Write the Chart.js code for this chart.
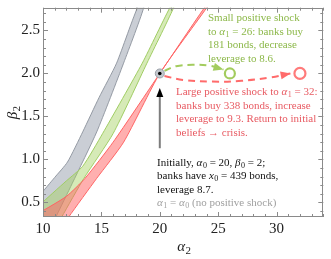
<!DOCTYPE html>
<html><head><meta charset="utf-8">
<script src="https://cdn.jsdelivr.net/npm/chart.js@4.4.1/dist/chart.umd.min.js"></script>
<style>html,body{margin:0;padding:0;background:#fff}canvas{display:block}</style>
</head><body>
<canvas id="c" width="331" height="259"></canvas>
<script>
// ---- axes ----
const xRange = [10, 34];
const yRange = [0.33, 2.765];
const xTicks = [10, 15, 20, 25, 30];
const yTicks = [0.5, 1.0, 1.5, 2.0, 2.5];

// ---- bands: [alpha2, beta2] boundary points ----
const grayUpper  = [[9.7,0.58],[11.0,0.79],[12.1,0.97],[13.4,1.32],[14.8,1.72],[16.3,2.12],[18.2,2.80]];
const grayLower  = [[9.9,0.0],[11.1,0.33],[12.5,0.72],[14.6,1.32],[16.9,2.12],[18.7,2.80]];
const greenUpper = [[9.7,0.47],[12.0,0.75],[13.4,0.92],[15.1,1.30],[18.5,2.12],[21.0,2.80]];
const greenLower = [[10.2,0.0],[11.6,0.33],[13.5,0.78],[16.0,1.30],[18.9,2.12],[21.3,2.80]];
const redUpper   = [[9.7,0.38],[12.0,0.57],[13.6,0.78],[16.0,1.20],[20.0,2.00],[24.0,2.80]];
const redLower   = [[10.6,0.0],[12.2,0.33],[14.6,0.78],[16.9,1.20],[20.0,2.00],[24.2,2.80]];

// ---- shock paths ----
const initialPoint = [20, 2];
const smallShock = [26, 2];
const largeShock = [32, 2];
const smallPath = [[20.4,2.03],[21.4,2.085],[22.8,2.10],[24.3,2.09],[25.45,2.045]];
const largePath = [[20.4,1.97],[22.0,1.925],[24.5,1.905],[27.0,1.915],[29.5,1.955],[31.2,2.0]];
const initArrow = [[20,1.13],[20,1.83]];

const greenText = ["Small positive shock","to {α}[1] = 26: banks buy","181 bonds, decrease","leverage to 8.6."];
const redText = ["Large positive shock to {α}[1] = 32:","banks buy 338 bonds, increase","leverage to 9.3. Return to initial","beliefs → crisis."];
const blackText = ["Initially, {α}[0] = 20, {β}[0] = 2;","banks have {x}[0] = 439 bonds,","leverage 8.7."];
const grayText = ["{α}[1] = {α}[0] (no positive shock)"];

const FONT = "'Liberation Serif','Times New Roman',serif";
const pts = a => a.map(p => ({x:p[0], y:p[1]}));
const poly = (u, l) => pts(u.concat(l.slice().reverse()));

function band(u, l, fill, stroke, order){
  return {data: poly(u,l), showLine:true, fill:'shape', backgroundColor:fill, borderColor:stroke,
    borderWidth:1, pointRadius:0, tension:0.2, order};
}

function drawRich(ctx, str, x, y, size, color){
  const re = /\{([^}]*)\}|\[([^\]]*)\]|([^{\[]+)/g;
  let m, cx = x;
  ctx.fillStyle = color; ctx.textBaseline = 'alphabetic'; ctx.textAlign = 'left';
  while ((m = re.exec(str))){
    if (m[1] !== undefined){ ctx.font = `italic ${size}px ${FONT}`; ctx.fillText(m[1], cx, y); cx += ctx.measureText(m[1]).width; }
    else if (m[2] !== undefined){ const s = Math.round(size*0.7); ctx.font = `${s}px ${FONT}`; ctx.fillText(m[2], cx+0.5, y+size*0.22); cx += ctx.measureText(m[2]).width+0.5; }
    else { ctx.font = `${size}px ${FONT}`; ctx.fillText(m[3], cx, y); cx += ctx.measureText(m[3]).width; }
  }
  return cx;
}
function richWidth(ctx, str, size){
  ctx.save(); const w = drawRich({fillText(){}, measureText:t=>{ctx.font=this_font;return ctx.measureText(t);}}, str, 0,0,size,'#000'); ctx.restore(); return w;
}

function arrowHead(ctx, x0, y0, x1, y1, len, half, color){
  const a = Math.atan2(y1-y0, x1-x0);
  ctx.save(); ctx.fillStyle = color; ctx.beginPath();
  ctx.moveTo(x1, y1);
  ctx.lineTo(x1 - len*Math.cos(a) + half*Math.sin(a), y1 - len*Math.sin(a) - half*Math.cos(a));
  ctx.lineTo(x1 - len*Math.cos(a) - half*Math.sin(a), y1 - len*Math.sin(a) + half*Math.cos(a));
  ctx.closePath(); ctx.fill(); ctx.restore();
}

const deco = {
  id:'deco',
  afterDraw(chart){
    const {ctx, chartArea:a, scales:{x, y}} = chart;
    ctx.save();
    // frame
    ctx.strokeStyle = '#8a8a8a'; ctx.lineWidth = 1;
    ctx.strokeRect(Math.round(a.left)+0.5, Math.round(a.top)+0.5, Math.round(a.right-a.left)-1, Math.round(a.bottom-a.top)-1);
    ctx.beginPath();
    for (let v = Math.ceil(x.min); v <= x.max; v += 1){
      const len = xTicks.includes(v) ? 5 : 3;
      const px = Math.round(x.getPixelForValue(v)) + 0.5;
      ctx.moveTo(px, a.bottom); ctx.lineTo(px, a.bottom-len);
      ctx.moveTo(px, a.top); ctx.lineTo(px, a.top+len);
    }
    for (let k = Math.ceil(y.min*10); k <= y.max*10; k += 1){
      const v = k/10;
      const len = (k % 5 === 0) ? 5 : 3;
      const py = Math.round(y.getPixelForValue(v)) + 0.5;
      ctx.moveTo(a.left, py); ctx.lineTo(a.left+len, py);
      ctx.moveTo(a.right, py); ctx.lineTo(a.right-len, py);
    }
    ctx.stroke();

    // arrowheads for shock paths
    const P = p => [x.getPixelForValue(p[0]), y.getPixelForValue(p[1])];
    let s0 = P(smallPath[smallPath.length-2]), s1 = P(smallPath[smallPath.length-1]);
    arrowHead(ctx, s0[0], s0[1], s1[0], s1[1], 10, 4, '#a3cc5e');
    let r0 = P(largePath[largePath.length-2]), r1 = P(largePath[largePath.length-1]);
    arrowHead(ctx, r0[0], r0[1], r1[0], r1[1], 10, 4, '#ff6b6b');
    // vertical arrow
    const b0 = P(initArrow[0]), b1 = P(initArrow[1]);
    ctx.strokeStyle = '#7d7d7d'; ctx.lineWidth = 2; ctx.beginPath();
    ctx.moveTo(b0[0], b0[1]); ctx.lineTo(b1[0], b1[1]+6); ctx.stroke();
    arrowHead(ctx, b0[0], b0[1], b1[0], b1[1], 9, 3.5, '#000');

    // annotations
    const lh = 13.5;
    greenText.forEach((t,i) => drawRich(ctx, t, 208, 21 + i*lh, 11, '#8cb849'));
    redText.forEach((t,i) => drawRich(ctx, t, 176, 95 + i*lh, 11, '#e85a62'));
    blackText.forEach((t,i) => drawRich(ctx, t, 157, 165.5 + i*lh, 11, '#111'));
    grayText.forEach((t,i) => drawRich(ctx, t, 157, 206 + i*lh, 11, '#a0a0a0'));

    // axis titles
    const cx = (a.left + a.right)/2;
    drawRich(ctx, '{α}[2]', cx-6, 251, 15, '#222');
    ctx.save(); ctx.translate(17, (a.top+a.bottom)/2 + 7); ctx.rotate(-Math.PI/2);
    drawRich(ctx, '{β}[2]', 0, 0, 15, '#222');
    ctx.restore();
    ctx.restore();
  }
};

new Chart(document.getElementById('c'), {
  type:'scatter',
  data:{datasets:[
    band(grayUpper, grayLower, 'rgba(150,158,172,0.5)', 'rgba(140,146,156,0.9)', 10),
    band(greenUpper, greenLower, 'rgba(165,208,95,0.45)', 'rgba(160,205,100,1)', 9),
    band(redUpper, redLower, 'rgba(255,95,95,0.5)', 'rgba(255,100,100,1)', 8),
    {data:pts(smallPath), showLine:true, borderColor:'#a3cc5e', borderWidth:2, borderDash:[7,5], pointRadius:0, tension:0.4, fill:false, order:5},
    {data:pts(largePath), showLine:true, borderColor:'#ff6b6b', borderWidth:2, borderDash:[7,5], pointRadius:0, tension:0.4, fill:false, order:5},
    {data:pts([smallShock]), pointRadius:5, pointBorderWidth:2.2, pointBorderColor:'#a3cc5e', pointBackgroundColor:'#fff', order:3},
    {data:pts([largeShock]), pointRadius:5.5, pointBorderWidth:2.2, pointBorderColor:'#ff7b7b', pointBackgroundColor:'#fff', order:3},
    {data:pts([initialPoint]), pointRadius:4.5, pointBorderWidth:1, pointBorderColor:'#9aa0a8', pointBackgroundColor:'#c3c7cd', order:2},
    {data:pts([initialPoint]), pointRadius:1.8, pointBorderWidth:0, pointBackgroundColor:'#000', order:1}
  ]},
  options:{
    responsive:false, animation:false, devicePixelRatio:1,
    layout:{padding:{top:3, right:3, left:0, bottom:0}},
    plugins:{legend:{display:false}, tooltip:{enabled:false}},
    scales:{
      x:{type:'linear', min:xRange[0], max:xRange[1],
        grid:{display:false, drawTicks:false}, border:{display:false},
        ticks:{font:{family:FONT, size:15}, color:'#222', padding:3, maxRotation:0, autoSkip:false},
        afterBuildTicks:s => { s.ticks = xTicks.map(v => ({value:v})); },
        afterFit:s => { s.height = 42; s.paddingLeft = 0; s.paddingRight = 0; }},
      y:{type:'linear', min:yRange[0], max:yRange[1],
        grid:{display:false, drawTicks:false}, border:{display:false},
        ticks:{font:{family:FONT, size:15}, color:'#222', padding:3, autoSkip:false, callback:v => v.toFixed(1)},
        afterBuildTicks:s => { s.ticks = yTicks.map(v => ({value:v})); },
        afterFit:s => { s.width = 43; s.paddingTop = 0; s.paddingBottom = 0; }}
    }
  },
  plugins:[deco]
});
</script>
</body></html>
